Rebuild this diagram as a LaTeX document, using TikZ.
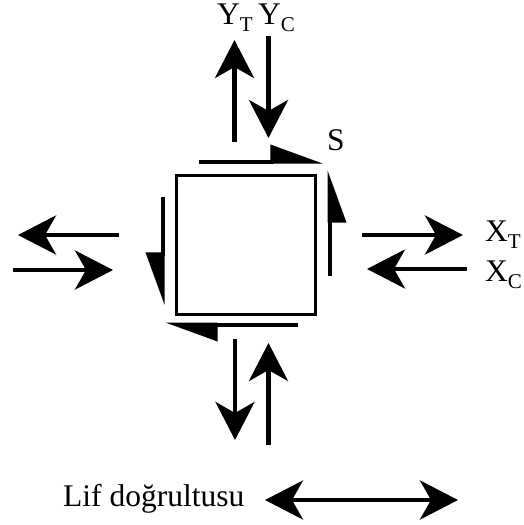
\documentclass[tikz,border=0pt]{standalone}
\usepackage{fontspec}
\setmainfont{Liberation Serif}
\usepackage{tikz}
\usetikzlibrary{arrows.meta}
\newcommand{\lowidx}[1]{\raisebox{-7pt}{\fontsize{21}{21}\selectfont #1}}

\begin{document}
\begin{tikzpicture}[x=1pt, y=-1pt,
    load/.style={line width=4.5pt, -{Stealth[length=38pt, width=39pt, inset=11pt]}},
    shearl/.style={line width=4pt, -{Triangle[length=47pt, width=33pt, left]}},
    shearr/.style={line width=4pt, -{Triangle[length=47pt, width=33pt, right]}},
    lbl/.style={inner sep=0pt, anchor=base west, font=\fontsize{31.5}{36}\selectfont}]
    \useasboundingbox (0,0) rectangle (524,525);

    % element
    \draw[line width=3pt] (176.5,175.5) rectangle (315,314.5);

    % shear
    \draw[shearl] (199,161.5) -- (323,161.5);
    \draw[shearr] (329.5,276) -- (329.5,170);
    \draw[shearr] (162.5,197) -- (162.5,305);
    \draw[shearl] (298,324.5) -- (165,324.5);

    % normal stresses
    \draw[load] (234.5,142) -- (234.5,40);
    \draw[load] (268.5,36) -- (268.5,138);
    \draw[load] (119,235) -- (18,235);
    \draw[load] (13,270) -- (113,270);
    \draw[load] (362,235) -- (463,235);
    \draw[load] (467,269) -- (367,269);
    \draw[load] (235,339) -- (235,440);
    \draw[load] (268.5,445) -- (268.5,343);
    \draw[line width=4.5pt, {Stealth[length=38pt, width=39pt, inset=11pt]}-{Stealth[length=38pt, width=39pt, inset=11pt]}] (265,500) -- (458,500);

    % labels
    \node[lbl] (yt) at (217,24) {Y\lowidx{T}};
    \node[lbl] (yc) at (258,24) {Y\lowidx{C}};
    \node[lbl] (xt) at (485,241) {X\lowidx{T}};
    \node[lbl] (xc) at (485,281) {X\lowidx{C}};
    \node[lbl] (s) at (327,150) {S};
    \node[lbl] (lif) at (63,506) {Lif doğrultusu};
\end{tikzpicture}
\end{document}
